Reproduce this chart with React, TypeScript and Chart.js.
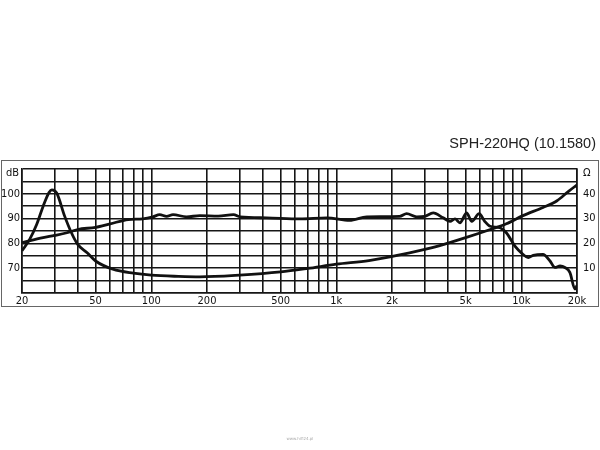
import React, { useEffect, useRef } from "react";
import { Chart, registerables } from "chart.js";

Chart.register(...registerables);

const titleText = "SPH-220HQ (10.1580)";
const watermark = "www.hifi24.pl";

const gridFreqs = [
  20, 30, 40, 50, 60, 70, 80, 90,
  100, 200, 300, 400, 500, 600, 700, 800, 900,
  1000, 2000, 3000, 4000, 5000, 6000, 7000, 8000, 9000,
  10000, 20000,
];
const freqLabels: Record<number, string> = {
  20: "20", 50: "50", 100: "100", 200: "200", 500: "500",
  1000: "1k", 2000: "2k", 5000: "5k", 10000: "10k", 20000: "20k",
};
const dbLabels = [70, 80, 90, 100];
const ohmLabels = [10, 20, 30, 40];

// SPL curve (dB, left axis)
const splFreq = [
  20, 26, 30, 35, 40, 50, 60, 75, 90, 102, 111, 121, 131, 155, 183, 230, 278,
  302, 420, 636, 888, 1180, 1460, 2200, 2400, 2720, 3000, 3340, 3780, 4120,
  4380, 4660, 5060, 5400, 5920, 6340, 6780, 7660, 8300, 9240, 10200, 10900,
  11600, 13100, 14300, 15200, 16200, 17200, 18300, 19500, 20000,
];
const splDb = [
  80.3, 82.3, 83.2, 84.3, 85.6, 86.5, 87.9, 89.6, 89.9, 90.7, 91.6, 90.9, 91.6,
  90.7, 91.2, 91.0, 91.6, 90.7, 90.3, 89.9, 90.3, 89.3, 90.7, 90.9, 92.0, 90.7,
  90.9, 92.3, 90.3, 88.9, 89.9, 88.3, 92.3, 88.9, 92.0, 88.9, 86.9, 86.3, 84.3,
  78.9, 75.6, 74.3, 75.2, 75.6, 72.9, 70.3, 70.9, 70.3, 68.3, 61.6, 63.0,
];

// Impedance curve (ohm, right axis)
const impFreq = [
  20, 22, 24, 26, 28, 29, 30.8, 34, 37, 40, 45, 50, 62, 80, 100, 140, 183, 300,
  500, 700, 1000, 1500, 2200, 3300, 4100, 5000, 6800, 8300, 10200, 13100,
  15600, 18000, 20000,
];
const impOhm = [
  17, 21.6, 27.6, 34.9, 40.5, 41.6, 40.3, 31, 24.3, 19.6, 16.2, 12.9, 9.6, 8,
  7.2, 6.7, 6.5, 7.2, 8.5, 9.9, 11.6, 13.1, 15.4, 18.3, 20.3, 22.3, 25.6, 27.9,
  31.2, 34.5, 37.2, 41, 43.6,
];

const tickFont = { family: "'DejaVu Sans Condensed', 'DejaVu Sans', sans-serif", size: 11 };
const gridColor = "#161616";

export default function App() {
  const ref = useRef<HTMLCanvasElement | null>(null);

  useEffect(() => {
    if (!ref.current) return;
    const decor = {
      id: "decor",
      afterDraw(chart: any) {
        const ctx = chart.ctx;
        ctx.save();
        ctx.strokeStyle = "#666";
        ctx.lineWidth = 1;
        ctx.strokeRect(1.5, 160.5, 597, 146);
        ctx.fillStyle = "#222";
        ctx.font = "14.5px 'Liberation Sans', Arial, sans-serif";
        ctx.textAlign = "right";
        ctx.textBaseline = "middle";
        ctx.fillText(titleText, 596, 144);
        ctx.font = `${tickFont.size}px ${tickFont.family}`;
        ctx.fillStyle = "#111";
        ctx.textAlign = "right";
        ctx.fillText("dB", 19, 173);
        ctx.textAlign = "left";
        ctx.fillText("Ω", 583, 173);
        ctx.font = "4px 'DejaVu Sans', sans-serif";
        ctx.fillStyle = "#aaa";
        ctx.textAlign = "center";
        ctx.fillText(watermark, 300, 439);
        ctx.restore();
      },
    };

    const chart = new Chart(ref.current, {
      type: "line",
      data: {
        datasets: [
          {
            label: "SPL",
            data: splFreq.map((f, i) => ({ x: f, y: splDb[i] })),
            yAxisID: "y",
            borderColor: "#111",
            borderWidth: 2.8,
            pointRadius: 0,
            tension: 0.35,
            cubicInterpolationMode: "monotone",
          },
          {
            label: "Impedance",
            data: impFreq.map((f, i) => ({ x: f, y: impOhm[i] })),
            yAxisID: "y1",
            borderColor: "#111",
            borderWidth: 2.8,
            pointRadius: 0,
            tension: 0.35,
            cubicInterpolationMode: "monotone",
          },
        ],
      },
      options: {
        animation: false,
        responsive: false,
        maintainAspectRatio: false,
        layout: { padding: { top: 169, left: 0, right: 0, bottom: 137 } },
        plugins: { legend: { display: false }, tooltip: { enabled: false } },
        scales: {
          x: {
            type: "logarithmic",
            min: 20,
            max: 20000,
            afterBuildTicks: (scale: any) => {
              scale.ticks = gridFreqs.map((v) => ({ value: v }));
            },
            afterFit: (scale: any) => {
              scale.height = 20;
            },
            ticks: {
              autoSkip: false,
              maxRotation: 0,
              padding: 2,
              color: "#111",
              font: tickFont,
              callback: (v: any) => freqLabels[Number(v)] ?? "",
            },
            grid: { color: gridColor, lineWidth: 1.6, drawTicks: false },
            border: { color: gridColor, width: 1.6 },
          },
          y: {
            type: "linear",
            position: "left",
            min: 60,
            max: 110,
            afterFit: (scale: any) => {
              scale.width = 22;
            },
            ticks: {
              stepSize: 5,
              autoSkip: false,
              padding: 2,
              color: "#111",
              font: tickFont,
              callback: (v: any) => (dbLabels.includes(Number(v)) ? String(v) : ""),
            },
            grid: { color: gridColor, lineWidth: 1.6, drawTicks: false },
            border: { color: gridColor, width: 1.6 },
          },
          y1: {
            type: "linear",
            position: "right",
            min: 0,
            max: 50,
            afterFit: (scale: any) => {
              scale.width = 23;
            },
            ticks: {
              stepSize: 10,
              autoSkip: false,
              padding: 6,
              color: "#111",
              font: tickFont,
              callback: (v: any) => (ohmLabels.includes(Number(v)) ? String(v) : ""),
            },
            grid: { drawOnChartArea: false, drawTicks: false },
            border: { color: gridColor, width: 1.6 },
          },
        },
      },
      plugins: [decor],
    } as any);
    return () => chart.destroy();
  }, []);

  return (
    <div style={{ position: "absolute", left: 0, top: 0, width: 600, height: 450, background: "#fff" }}>
      <canvas ref={ref} width={600} height={450} style={{ width: 600, height: 450, display: "block" }} />
    </div>
  );
}
